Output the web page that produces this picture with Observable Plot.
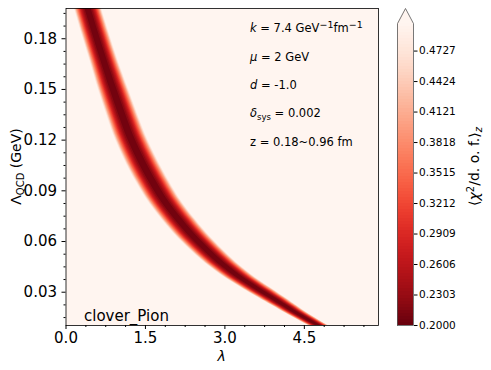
<!DOCTYPE html>
<html><head><meta charset="utf-8">
<script src="https://cdn.jsdelivr.net/npm/d3@7"></script>
<script src="https://cdn.jsdelivr.net/npm/@observablehq/plot@0.6"></script>
<style>
body{margin:0;background:#fff;}
#wrap{position:relative;width:491px;height:370px;font-family:"DejaVu Sans",sans-serif;}
#wrap svg{position:absolute;top:0;overflow:visible;}
</style></head><body><div id="wrap"></div>
<script>
// Band of minimum chi^2: Lambda_QCD (GeV) -> centre lambda, outer half-width in lambda
const lambdaQCD     = [0.2038, 0.1979, 0.1831, 0.1671, 0.1499, 0.1346, 0.1198, 0.1020, 0.0896, 0.0824, 0.0623, 0.0428, 0.0268, 0.0191, 0.0102, 0.0043];
const bandCenter    = [0.359,  0.415,  0.557,  0.717,  0.897,  1.067,  1.246,  1.520,  1.746,  1.897,  2.426,  3.106,  3.880,  4.277,  4.767,  5.126];
const bandHalfWidth = [0.26,   0.26,   0.265,  0.27,   0.29,   0.30,   0.31,   0.32,   0.32,   0.32,   0.32,   0.30,   0.26,   0.22,   0.19,   0.17];
// chi^2 profile across the band: level -> relative distance from the centre line
const chiLevels  = [0.200,0.215,0.230,0.245,0.260,0.275,0.290,0.305,0.320,0.335,0.350,0.365,0.380,0.395,0.410,0.425,0.440,0.455,0.470,0.485,0.500];
const relOffset  = [0.00, 0.22, 0.32, 0.39, 0.45, 0.50, 0.55, 0.59, 0.63, 0.67, 0.71, 0.74, 0.77, 0.81, 0.84, 0.87, 0.89, 0.92, 0.95, 0.97, 1.00];
// axes
const xTicks = [0, 1.5, 3.0, 4.5];
const yTicks = [0.03, 0.06, 0.09, 0.12, 0.15, 0.18];
const cbTicks = [0.2000, 0.2303, 0.2606, 0.2909, 0.3212, 0.3515, 0.3818, 0.4121, 0.4424, 0.4727];
const annotations = ["k", "μ", "d", "δ", "z"];

const colorScale = {type: "linear", scheme: "reds", reverse: true, domain: [0.2, 0.5]};
const bgColor = d3.interpolateReds(0.0);

const bandMarks = [];
for (let i = chiLevels.length - 1; i >= 1; i--) {
  const v = (chiLevels[i - 1] + chiLevels[i]) / 2;
  const rows = lambdaQCD.map((L, j) => ({
    L, v,
    x1: bandCenter[j] - bandHalfWidth[j] * relOffset[i],
    x2: bandCenter[j] + bandHalfWidth[j] * relOffset[i]
  }));
  bandMarks.push(Plot.areaX(rows, {y: "L", x1: "x1", x2: "x2", fill: "v", curve: "catmull-rom", clip: true}));
}

const xMinor = d3.range(0, 5.9, 0.375).filter(d => !xTicks.some(t => Math.abs(t - d) < 1e-6));
const yMinor = d3.range(0.015, 0.198, 0.0075).filter(d => !yTicks.some(t => Math.abs(t - d) < 1e-6));

const main = Plot.plot({
  width: 390, height: 370,
  marginLeft: 65.5, marginRight: 12, marginTop: 8, marginBottom: 45,
  style: {fontFamily: "DejaVu Sans", fontSize: "14px", color: "#000", background: "transparent"},
  x: {domain: [0, 5.9], label: null},
  y: {domain: [0.0103, 0.1979], label: null},
  color: colorScale,
  marks: [
    Plot.frame({fill: bgColor}),
    ...bandMarks,
    Plot.frame({stroke: "#000", strokeWidth: 0.8}),
    Plot.axisX({ticks: xTicks, tickFormat: d => d.toFixed(1), tickSize: 4, tickPadding: 3, fontSize: 15, label: null}),
    Plot.axisX({ticks: xMinor, tickSize: 2, tickFormat: () => "", label: null}),
    Plot.axisY({ticks: yTicks, tickFormat: d => d.toFixed(2), tickSize: 4, tickPadding: 5, fontSize: 15, label: null}),
    Plot.axisY({ticks: yMinor, tickSize: 2, tickFormat: () => "", label: null})
  ]
});
main.style.left = "0px";

const cbStep = 0.3 / 99;
const cbCells = d3.range(0, 99).map(i => 0.2 + i * cbStep);
const tip = 0.5 + 0.05 * 0.3;
const outline = [{x: 0, y: 0.2}, {x: 0, y: 0.5}, {x: 0.5, y: tip}, {x: 1, y: 0.5}, {x: 1, y: 0.2}, {x: 0, y: 0.2}];
const cb = Plot.plot({
  width: 111, height: 370,
  marginLeft: 17, marginRight: 78, marginTop: 8, marginBottom: 45,
  style: {fontFamily: "DejaVu Sans", fontSize: "10.5px", color: "#000", background: "transparent"},
  x: {domain: [0, 1], axis: null},
  y: {domain: [0.2, tip], label: null},
  color: colorScale,
  marks: [
    Plot.rect(cbCells, {x1: 0, x2: 1, y1: d => d, y2: d => d + cbStep + 0.0006, fill: d => d + cbStep / 2, shapeRendering: "crispEdges"}),
    Plot.areaY([{x: 0, y: 0.5}, {x: 0.5, y: tip}, {x: 1, y: 0.5}], {x: "x", y1: 0.5, y2: "y", fill: bgColor}),
    Plot.line(outline, {x: "x", y: "y", stroke: "#555", strokeWidth: 0.8}),
    Plot.axisY({anchor: "right", ticks: cbTicks, tickFormat: d => d.toFixed(4), tickSize: 3.5, tickPadding: 2, fontSize: 10.5, label: null})
  ]
});
cb.style.left = "380px";

const wrap = document.getElementById("wrap");
wrap.appendChild(main);
wrap.appendChild(cb);

// text labels
const ms = d3.select(main);
// y label
const yl = ms.append("text").attr("transform", "translate(21,166.5) rotate(-90)")
  .attr("text-anchor", "middle").attr("font-size", 14).attr("font-family", "DejaVu Sans");
yl.append("tspan").text("Λ");
yl.append("tspan").attr("font-size", 10).attr("dy", 3).text("QCD");
yl.append("tspan").attr("dy", -3).text(" (GeV)");
// x label
ms.append("text").attr("x", 221.75).attr("y", 361).attr("text-anchor", "middle")
  .attr("font-size", 14).attr("font-style", "italic").attr("font-family", "DejaVu Sans").text("λ");
// clover_Pion
ms.append("text").attr("x", 84).attr("y", 321).attr("text-anchor", "start").attr("font-size", 15).attr("font-family", "DejaVu Sans").text("clover_Pion");
// annotations
const ax = 250, ay = [32, 61, 89, 117, 146];
const annLines = [
  [[annotations[0], "i"], [" = 7.4 GeV", ""], ["−1", "sup"], ["fm", ""], ["−1", "sup"]],
  [[annotations[1], "i"], [" = 2 GeV", ""]],
  [[annotations[2], "i"], [" = -1.0", ""]],
  [[annotations[3], "i"], ["sys", "sub"], [" = 0.002", ""]],
  [[annotations[4], ""], [" = 0.18~0.96 fm", ""]]
];
annLines.forEach((line, k) => {
  const t = ms.append("text").attr("x", ax).attr("y", ay[k]).attr("text-anchor", "start").attr("font-size", 11.5).attr("font-family", "DejaVu Sans");
  let shift = 0;
  line.forEach(([s, kind]) => {
    const sp = t.append("tspan").text(s);
    let target = 0;
    if (kind === "i") sp.attr("font-style", "italic");
    if (kind === "sup") { sp.attr("font-size", 9.5); target = -4.5; }
    if (kind === "sub") { sp.attr("font-size", 8.5); target = 2.5; }
    if (target !== shift) { sp.attr("dy", target - shift); shift = target; }
  });
});
// colorbar label
const cs = d3.select(cb);
const cl = cs.append("text").attr("transform", "translate(99,166.5) rotate(-90)")
  .attr("text-anchor", "middle").attr("font-size", 14).attr("font-family", "DejaVu Sans");
cl.append("tspan").text("⟨");
cl.append("tspan").attr("font-style", "italic").text("χ");
cl.append("tspan").attr("font-size", 10).attr("dy", -5).text("2");
cl.append("tspan").attr("dy", 5).text("/d. o. f.⟩");
cl.append("tspan").attr("font-size", 10).attr("font-style", "italic").attr("dy", 3).text("z");
</script></body></html>
